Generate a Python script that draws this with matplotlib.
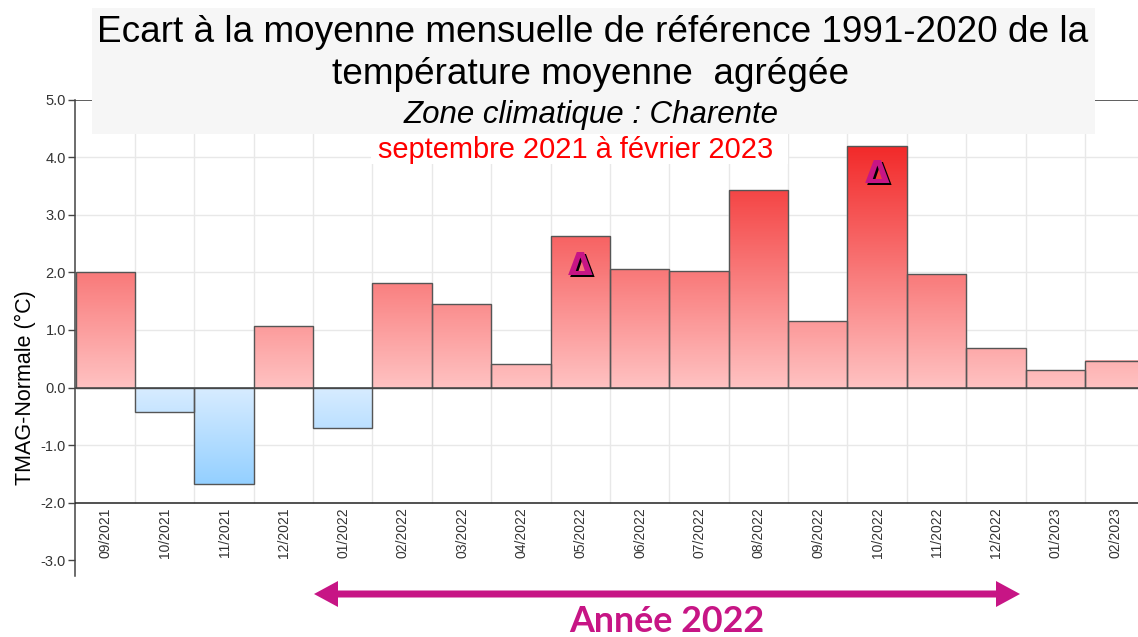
import numpy as np
import matplotlib
matplotlib.use("Agg")
import matplotlib.pyplot as plt
from matplotlib.patches import Rectangle, Polygon
from matplotlib.colors import LinearSegmentedColormap

months = ["09/2021", "10/2021", "11/2021", "12/2021", "01/2022", "02/2022", "03/2022", "04/2022", "05/2022",
          "06/2022", "07/2022", "08/2022", "09/2022", "10/2022", "11/2022", "12/2022", "01/2023", "02/2023"]
ecart = [2.0, -0.42, -1.67, 1.07, -0.70, 1.82, 1.45, 0.41, 2.63,
         2.06, 2.02, 3.43, 1.15, 4.20, 1.98, 0.69, 0.31, 0.47]
record_months = ["05/2022", "10/2022"]
y_ticks = [5, 4, 3, 2, 1, 0, -1, -2, -3]

W, H = 1138, 637
plt.rcParams["font.family"] = ["Liberation Sans", "DejaVu Sans"]
fig = plt.figure(figsize=(W / 100, H / 100), dpi=100, facecolor="white")

L, R, T, B = 75.5, 1138, 99.7, 576.4
ax = fig.add_axes([L / W, 1 - B / H, (R - L) / W, (B - T) / H])
xmax = (R - 76) / 59.35 - 0.5

red = LinearSegmentedColormap.from_list("r", ["#ffc2c2", "#f22a2a"])
blue = LinearSegmentedColormap.from_list("b", ["#d8ecff", "#94d0ff"])
for i, v in enumerate(ecart):
    t = np.linspace(1, 0, 128).reshape(-1, 1) * abs(v)
    if v >= 0:
        rgb = red(t / 4.2)
        extent = (i - .5, i + .5, 0, v)
    else:
        rgb = blue((1 - np.linspace(1, 0, 128).reshape(-1, 1)) * abs(v) / 1.67)
        extent = (i - .5, i + .5, v, 0)
    ax.imshow(rgb, extent=extent, aspect="auto", zorder=2, interpolation="bilinear")
    ax.add_patch(Rectangle((i - .5, 0), 1, v, fill=False, ec="#555555", lw=1.0, zorder=3))
ax.set_xlim(-0.5, xmax)
ax.set_ylim(-3.28, 5.0)

for s in ["top", "right", "bottom"]:
    ax.spines[s].set_visible(False)
ax.spines["left"].set_color("#444444")
ax.spines["left"].set_linewidth(1.1)

ax.hlines([y for y in y_ticks if -2 < y < 5], -0.5, xmax, color="#e8e8e8", lw=1, zorder=1)
ax.vlines(np.arange(len(months)) + .5, -2, 5, color="#e8e8e8", lw=1, zorder=1)
ax.axhline(5, color="#333333", lw=1.1, zorder=2)
ax.axhline(0, color="#444444", lw=1.1, zorder=4)
ax.axhline(-2, color="#222222", lw=1.1, zorder=4)

ax.set_yticks(y_ticks)
ax.set_yticklabels([f"{y:.1f}" for y in y_ticks], fontsize=10.5, color="#333333")
ax.tick_params(axis="y", length=5, width=1, color="#444444", pad=2)
ax.set_xticks([])
for i, m in enumerate(months):
    ax.text(i + 0.01, -2.08, m, rotation=90, ha="center", va="top", fontsize=10, color="#333333", clip_on=True)
    if m in record_months:
        y = ecart[i] - (0.50 if m == "10/2022" else 0.52)
        ax.annotate("\u0394", (i, y), xytext=(1.5, -1.5), textcoords="offset points", ha="center", va="center",
                    fontsize=23, fontweight="bold", color="black", zorder=5, family="DejaVu Sans")
        ax.annotate("\u0394", (i, y), ha="center", va="center",
                    fontsize=23, fontweight="bold", color="#c71585", zorder=6, family="DejaVu Sans")

fig.text(25 / W, 1 - 388 / H, "TMAG-Normale (\u00b0C)", rotation=90, ha="center", va="center", fontsize=15.5, color="black")

ov = fig.add_axes([0, 0, 1, 1], facecolor="none", zorder=10)
ov.set_xlim(0, W)
ov.set_ylim(H, 0)
ov.axis("off")
ov.add_patch(Rectangle((92, 8), 1003, 125.5, fc="#f6f6f6", ec="none"))
ov.add_patch(Rectangle((371, 134), 417, 30, fc="white", ec="none"))
ov.text(593, 32, "Ecart \u00e0 la moyenne mensuelle de r\u00e9f\u00e9rence 1991-2020 de la", ha="center", va="center", fontsize=26.6, color="black")
ov.text(591, 74, "temp\u00e9rature moyenne  agr\u00e9g\u00e9e", ha="center", va="center", fontsize=26.6, color="black")
ov.text(591, 115, "Zone climatique : Charente", ha="center", va="center", fontsize=22.5, style="italic", color="black")
ov.text(575.5, 150, "septembre 2021 \u00e0 f\u00e9vrier 2023", ha="center", va="center", fontsize=20.9, color="#ff0000")
ov.add_patch(Polygon([(314, 594), (338, 581), (338, 590.5), (996, 590.5), (996, 581), (1020, 594),
                      (996, 607), (996, 597.5), (338, 597.5), (338, 607)], closed=True, fc="#c71585", ec="none"))
ov.text(666.5, 622, "Ann\u00e9e 2022", ha="center", va="center", fontsize=25.8, fontweight="bold", family="Lato", color="#c71585")

fig.savefig("out.png", dpi=100, facecolor="white")
